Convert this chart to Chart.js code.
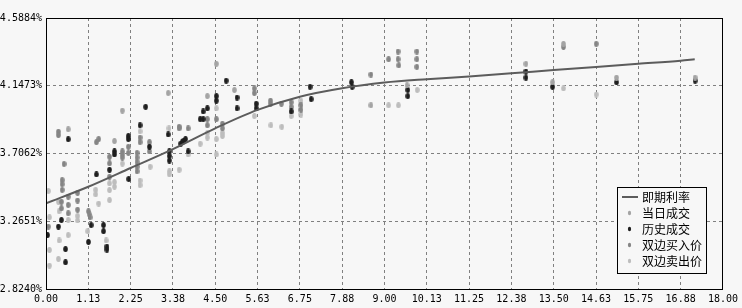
<!DOCTYPE html>
<html>
<head>
<meta charset="utf-8">
<script src="https://cdn.jsdelivr.net/npm/chart.js@4.4.1/dist/chart.umd.min.js"></script>
<style>
  html, body { margin: 0; padding: 0; background: #f7f7f7; }
  #wrap { width: 742px; height: 308px; }
</style>
</head>
<body>
<div id="wrap"><canvas id="rateChart" width="742" height="308"></canvas></div>
<script>
// axis ticks
const xTicks = [0, 1.125, 2.25, 3.375, 4.5, 5.625, 6.75, 7.875, 9, 10.125, 11.25, 12.375, 13.5, 14.625, 15.75, 16.875, 18];
const xTickLabels = ["0.00", "1.13", "2.25", "3.38", "4.50", "5.63", "6.75", "7.88", "9.00", "10.13", "11.25", "12.38", "13.50", "14.63", "15.75", "16.88", "18.00"];
const yTicks = [2.8240, 3.2651, 3.7062, 4.1473, 4.5884];
const yTickLabels = ["2.8240%", "3.2651%", "3.7062%", "4.1473%", "4.5884%"];

// 即期利率 curve
const curveX = [0, 1.125, 2.25, 3.375, 4.5, 5.625, 6.75, 7.875, 9, 10.125, 11.25, 12.375, 13.5, 14.625, 15.75, 16.875, 17.25];
const curveY = [3.382, 3.49, 3.612, 3.735, 3.87, 3.99, 4.076, 4.131, 4.168, 4.19, 4.208, 4.228, 4.25, 4.27, 4.29, 4.31, 4.32];

// 当日成交
const todayTrades = [
    [0.59, 3.864], [1.82, 3.787], [2.03, 3.985], [3.25, 4.10], [4.29, 4.08], [4.53, 4.29],
    [5.01, 4.12], [8.64, 4.02], [9.60, 4.15], [12.76, 4.29], [13.47, 4.17], [13.76, 4.42],
    [15.17, 4.20], [17.26, 4.20]
];

// 历史成交
const pastTrades = [
    [0.04, 3.175], [0.59, 3.799], [0.33, 3.23], [0.41, 3.273], [0.52, 3.084], [0.52, 2.998],
    [1.13, 3.13], [1.20, 3.24], [1.34, 3.57], [1.53, 3.24], [1.53, 3.20], [1.62, 3.10],
    [1.62, 3.08], [1.69, 3.60], [1.82, 3.72], [1.82, 3.70], [2.19, 3.82], [2.19, 3.80],
    [2.20, 3.54], [2.50, 3.89], [2.65, 4.01], [2.75, 3.75], [3.25, 3.83], [3.28, 3.72],
    [3.28, 3.69], [3.28, 3.66], [3.58, 3.77], [3.62, 3.78], [3.66, 3.79], [3.71, 3.80],
    [3.78, 3.72], [4.10, 3.93], [4.18, 3.98], [4.18, 3.93], [4.29, 4.00], [4.53, 4.08],
    [4.53, 4.05], [4.79, 4.18], [5.08, 4.07], [5.08, 4.00], [5.59, 4.03], [5.59, 4.00],
    [6.52, 3.98], [7.02, 4.14], [7.05, 4.06], [8.12, 4.17], [8.14, 4.14], [9.62, 4.12],
    [9.62, 4.08], [12.76, 4.24], [12.76, 4.20], [13.47, 4.14], [15.17, 4.17], [17.26, 4.18]
];

// 双边买入价
const bidQuotes = [
    [0.06, 3.23], [0.33, 3.848], [0.33, 3.826], [0.48, 3.638], [0.43, 3.533], [0.43, 3.506],
    [0.43, 3.469], [0.41, 3.392], [0.41, 3.349], [0.59, 3.425], [0.59, 3.371], [0.59, 3.317],
    [0.84, 3.45], [0.84, 3.40], [0.84, 3.34], [1.13, 3.33], [1.15, 3.31], [1.17, 3.29],
    [1.34, 3.78], [1.40, 3.80], [1.69, 3.685], [1.69, 3.642], [1.69, 3.555], [2.03, 3.72],
    [2.03, 3.70], [2.03, 3.68], [2.19, 3.75], [2.19, 3.71], [2.42, 3.71], [2.42, 3.68],
    [2.42, 3.65], [2.42, 3.62], [2.42, 3.59], [2.50, 3.81], [2.50, 3.78], [2.75, 3.78],
    [2.75, 3.72], [3.54, 3.88], [3.54, 3.87], [3.78, 3.87], [4.29, 3.93], [4.29, 3.89],
    [4.53, 3.93], [4.69, 3.90], [4.69, 3.87], [5.54, 4.13], [5.54, 4.10], [5.97, 4.05],
    [5.97, 4.03], [6.26, 4.03], [6.52, 4.04], [6.52, 4.01], [6.78, 4.02], [6.78, 3.99],
    [8.64, 4.22], [9.11, 4.32], [9.36, 4.37], [9.36, 4.32], [9.38, 4.28], [9.86, 4.37],
    [9.86, 4.32], [9.86, 4.27], [13.76, 4.40], [14.63, 4.42]
];

// 双边卖出价
const askQuotes = [
    [0.06, 3.462], [0.09, 3.291], [0.09, 3.078], [0.09, 2.976], [0.33, 3.392], [0.35, 3.33],
    [0.35, 3.14], [0.33, 3.02], [0.59, 3.273], [0.59, 3.175], [0.84, 3.30], [0.84, 3.27],
    [1.11, 3.20], [1.32, 3.47], [1.32, 3.44], [1.40, 3.38], [1.60, 3.14], [1.69, 3.512],
    [1.69, 3.468], [1.69, 3.403], [1.82, 3.52], [1.82, 3.49], [2.03, 3.64], [2.50, 3.85],
    [2.50, 3.53], [2.50, 3.50], [2.77, 3.62], [3.27, 3.87], [3.28, 3.59], [3.28, 3.57],
    [3.54, 3.60], [3.78, 3.70], [4.10, 3.77], [4.29, 3.84], [4.29, 3.81], [4.53, 4.00],
    [4.53, 3.80], [4.53, 3.70], [4.69, 3.84], [4.69, 3.82], [5.54, 3.95], [5.98, 3.89],
    [6.27, 3.88], [6.52, 3.98], [6.52, 3.95], [6.78, 4.05], [6.78, 3.96], [9.11, 4.02],
    [9.37, 4.02], [9.87, 4.12], [13.76, 4.13], [14.63, 4.09]
];

const toPoints = (arr) => arr.map((p) => ({ x: p[0], y: p[1] }));

// small upright ellipse used as point marker
function dotImage(color) {
    const c = document.createElement("canvas");
    c.width = 5;
    c.height = 6;
    const g = c.getContext("2d");
    g.fillStyle = color;
    g.beginPath();
    g.ellipse(2.5, 3, 2.3, 2.9, 0, 0, Math.PI * 2);
    g.fill();
    return c;
}

// page background
const bgPlugin = {
    id: "bg",
    beforeDraw(chart) {
        const ctx = chart.ctx;
        ctx.save();
        ctx.fillStyle = "#f7f7f7";
        ctx.fillRect(0, 0, chart.width, chart.height);
        ctx.restore();
    },
};

// black frame round the plot + legend box inside it
const framePlugin = {
    id: "frame",
    afterDatasetsDraw(chart) {
        const { ctx, chartArea: a } = chart;
        ctx.save();
        ctx.strokeStyle = "#000";
        ctx.lineWidth = 1;
        ctx.strokeRect(Math.round(a.left) + 0.5, Math.round(a.top) + 0.5, Math.round(a.right - a.left) - 1, Math.round(a.bottom - a.top));

        // legend
        const bx = 617, by = 187, bw = 89, bh = 86;
        ctx.fillStyle = "#f7f7f7";
        ctx.fillRect(bx, by, bw, bh);
        ctx.strokeRect(bx + 0.5, by + 0.5, bw, bh);
        ctx.font = "12px 'Noto Sans CJK SC'";
        ctx.textBaseline = "middle";
        chart.data.datasets.forEach((ds, i) => {
            const y = 197 + i * 16;
            if (ds.type === "line") {
                ctx.strokeStyle = ds.borderColor;
                ctx.lineWidth = 2;
                ctx.beginPath();
                ctx.moveTo(622, y);
                ctx.lineTo(638, y);
                ctx.stroke();
            } else {
                ctx.fillStyle = ds.backgroundColor;
                ctx.beginPath();
                ctx.ellipse(629.5, y, 1.6, 2.2, 0, 0, Math.PI * 2);
                ctx.fill();
            }
            ctx.fillStyle = "#000";
            ctx.fillText(ds.label, 642, y);
        });
        ctx.restore();
    },
};

const scatterSet = (label, data, color) => ({
    type: "scatter",
    label: label,
    data: toPoints(data),
    backgroundColor: color,
    borderColor: color,
    pointStyle: dotImage(color),
    pointRadius: 3,
    borderWidth: 0,
});

new Chart(document.getElementById("rateChart"), {
    data: {
        datasets: [
            {
                type: "line",
                label: "即期利率",
                data: curveX.map((x, i) => ({ x: x, y: curveY[i] })),
                borderColor: "#5c5c5c",
                borderWidth: 2,
                pointRadius: 0,
                cubicInterpolationMode: "monotone",
                fill: false,
            },
            scatterSet("当日成交", todayTrades, "#a4a4a4"),
            scatterSet("历史成交", pastTrades, "#1e1e1e"),
            scatterSet("双边买入价", bidQuotes, "#858585"),
            scatterSet("双边卖出价", askQuotes, "#bdbdbd"),
        ],
    },
    options: {
        responsive: false,
        animation: false,
        events: [],
        layout: { padding: { top: 18, right: 15, left: 0, bottom: 0 } },
        plugins: { legend: { display: false }, tooltip: { enabled: false } },
        scales: {
            x: {
                type: "linear",
                min: 0,
                max: 18,
                afterBuildTicks: (scale) => { scale.ticks = xTicks.map((v) => ({ value: v })); },
                afterFit: (scale) => { scale.height = 19; },
                ticks: {
                    autoSkip: false,
                    maxRotation: 0,
                    padding: 4,
                    color: "#000",
                    font: { family: "'DejaVu Sans Mono'", size: 10 },
                    callback: (value, index) => xTickLabels[index],
                },
                grid: { color: "#808080", drawTicks: false, lineWidth: 1 },
                border: { display: true, color: "#000", dash: [3, 3] },
            },
            y: {
                type: "linear",
                min: 2.824,
                max: 4.5884,
                afterBuildTicks: (scale) => { scale.ticks = yTicks.map((v) => ({ value: v })); },
                afterFit: (scale) => { scale.width = 46; },
                ticks: {
                    autoSkip: false,
                    padding: 4,
                    color: "#000",
                    font: { family: "'DejaVu Sans Mono'", size: 10 },
                    callback: (value, index) => yTickLabels[index],
                },
                grid: { color: "#808080", drawTicks: false, lineWidth: 1 },
                border: { display: true, color: "#000", dash: [3, 3] },
            },
        },
    },
    plugins: [bgPlugin, framePlugin],
});
</script>
</body>
</html>
